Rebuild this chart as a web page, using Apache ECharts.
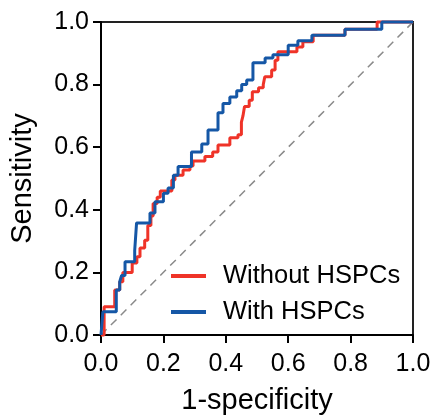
<!DOCTYPE html>
<html>
<head>
<meta charset="utf-8">
<script src="https://cdn.jsdelivr.net/npm/echarts@6/dist/echarts.min.js"></script>
<style>html,body{margin:0;padding:0;background:#fff;}#c{width:432px;height:415px;}</style>
</head>
<body>
<div id="c"></div>
<script>
// ROC curve vertices (1-specificity, sensitivity); drawn as horizontal-then-vertical steps
const withoutHSPCs = [
  [0,0],[0.01,0.09],[0.044,0.144],[0.06,0.17],[0.07,0.20],[0.10,0.23],[0.115,0.25],
  [0.125,0.278],[0.14,0.303],[0.15,0.35],[0.16,0.38],[0.167,0.42],[0.18,0.44],[0.19,0.46],
  [0.227,0.495],[0.237,0.51],[0.263,0.527],[0.285,0.54],[0.295,0.556],[0.333,0.57],
  [0.358,0.585],[0.375,0.607],[0.413,0.63],[0.439,0.64],[0.45,0.68],[0.455,0.70],[0.46,0.73],
  [0.475,0.75],[0.485,0.777],[0.505,0.79],[0.52,0.80],[0.525,0.825],[0.547,0.847],
  [0.558,0.878],[0.567,0.905],[0.628,0.92],[0.647,0.937],[0.68,0.958],[0.782,0.977],
  [0.885,1.0],[1,1]
];
const withHSPCs = [
  [0,0],[0.006,0.074],[0.049,0.144],[0.06,0.17],[0.066,0.19],[0.077,0.234],[0.108,0.27],
  [0.114,0.358],[0.157,0.39],[0.173,0.426],[0.2,0.453],[0.215,0.47],[0.232,0.51],
  [0.247,0.538],[0.29,0.585],[0.323,0.61],[0.343,0.655],[0.375,0.71],[0.391,0.74],
  [0.413,0.76],[0.435,0.78],[0.451,0.80],[0.467,0.815],[0.487,0.87],[0.526,0.885],
  [0.551,0.895],[0.6,0.926],[0.631,0.94],[0.676,0.958],[0.782,0.977],[0.9,1.0],[1,1]
];
const reference = [[0,0],[1,1]];
const seriesNames = ['Without HSPCs','With HSPCs'];
const xTitle = '1-specificity';
const yTitle = 'Sensitivity';

const FONT = '"Liberation Sans", Arial, Helvetica, sans-serif';
const chart = echarts.init(document.getElementById('c'), null, {renderer:'canvas'});
const axisCommon = {
  type:'value', min:0, max:1, interval:0.2,
  axisLine:{show:true, lineStyle:{color:'#000', width:2}},
  axisTick:{show:true, inside:false, length:8, lineStyle:{color:'#000', width:2}},
  splitLine:{show:false},
  axisLabel:{color:'#000', fontSize:25, fontFamily:FONT, formatter:v=>v.toFixed(1)},
  nameLocation:'middle',
  nameTextStyle:{color:'#000', fontSize:29, fontFamily:FONT}
};
chart.setOption({
  animation:false,
  backgroundColor:'#fff',
  grid:{left:101, right:19, top:22, bottom:80, show:true, borderColor:'#222', borderWidth:2,
        backgroundColor:'transparent', containLabel:false, outerBoundsMode:'none'},
  xAxis:Object.assign({}, axisCommon, {name:xTitle, nameGap:51, axisLabel:Object.assign({}, axisCommon.axisLabel, {margin:17})}),
  yAxis:Object.assign({}, axisCommon, {name:yTitle, nameGap:64, axisLabel:Object.assign({}, axisCommon.axisLabel, {margin:12})}),
  legend:{
    data:seriesNames, orient:'vertical', left:166, top:258,
    icon:'rect', itemWidth:35, itemHeight:4, itemGap:10,
    textStyle:{color:'#000', fontSize:25.5, fontFamily:FONT, lineHeight:25, padding:[0,0,0,12]}
  },
  series:[
    {type:'line', name:'ref', data:reference, showSymbol:false, silent:true,
     lineStyle:{color:'#8a8a8a', width:1.5, type:[8,6]}, z:1},
    {type:'line', name:seriesNames[0], data:withoutHSPCs, step:'end', showSymbol:false, clip:false,
     itemStyle:{color:'#EF3328'}, lineStyle:{color:'#EF3328', width:3}, z:2},
    {type:'line', name:seriesNames[1], data:withHSPCs, step:'end', showSymbol:false, clip:false,
     itemStyle:{color:'#1557A6'}, lineStyle:{color:'#1557A6', width:3}, z:3}
  ]
});
</script>
</body>
</html>
